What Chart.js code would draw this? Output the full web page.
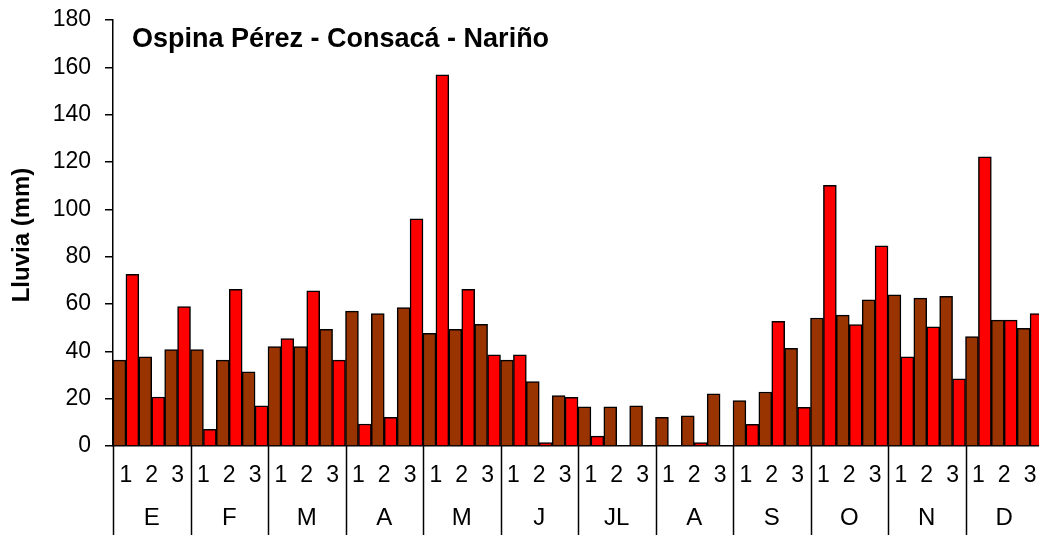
<!DOCTYPE html>
<html lang="es">
<head>
<meta charset="utf-8">
<title>Ospina Pérez - Consacá - Nariño</title>
<script src="https://cdn.jsdelivr.net/npm/chart.js@4.4.1/dist/chart.umd.min.js"></script>
<style>
  html, body { margin: 0; padding: 0; background: #fff; overflow: hidden; }
  .chart-wrap { position: relative; width: 1043px; height: 535px; }
</style>
</head>
<body>
<div class="chart-wrap"><canvas id="lluviaChart"></canvas></div>
<script>
// ===== Datos =====
const months = ['E', 'F', 'M', 'A', 'M', 'J', 'JL', 'A', 'S', 'O', 'N', 'D'];
const dekads = ['1', '2', '3'];

// lluvia por decadal (mm)
const serieCafe = [
  36.3, 37.7, 40.7, 40.7, 36.3, 31.3, 42, 42, 49.3, 57, 56, 58.5,
  47.6, 49.3, 51.4, 36.3, 27.2, 21.3, 16.5, 16.5, 17, 12.1, 12.8, 22,
  19.2, 22.8, 41.3, 54.1, 55.3, 61.8, 63.9, 62.5, 63.2, 46.2, 53.2, 49.7,
];
const serieRoja = [
  72.5, 20.7, 58.9, 7, 66.2, 17, 45.4, 65.6, 36.3, 9.3, 12.1, 96,
  156.8, 66.2, 38.5, 38.5, 1.4, 20.6, 4.2, 0, 0, 0, 1.4, 0,
  9.2, 52.7, 16.3, 110.1, 51.3, 84.6, 37.7, 50.4, 28.4, 122.2, 53.2, 56,
];
const yTicks = [0, 20, 40, 60, 80, 100, 120, 140, 160, 180];

const TITULO = 'Ospina Pérez - Consacá - Nariño';
const EJE_Y = 'Lluvia (mm)';
const FONT = '"Liberation Sans", Arial, sans-serif';

const labels = months.flatMap((m) => dekads.map((d) => [d, m]));

// ===== Eje de meses / decadales + títulos =====
const ejeMeses = {
  id: 'ejeMeses',
  afterDraw(chart) {
    const { ctx, chartArea } = chart;
    const x = chart.scales.x;
    const paso = x.getPixelForValue(1) - x.getPixelForValue(0);

    ctx.save();
    ctx.fillStyle = '#000';
    ctx.textAlign = 'center';
    ctx.textBaseline = 'middle';

    ctx.font = `23px ${FONT}`;
    labels.forEach((lab, i) => ctx.fillText(lab[0], x.getPixelForValue(i), 476));

    ctx.font = `24px ${FONT}`;
    months.forEach((m, j) => ctx.fillText(m, x.getPixelForValue(j * 3 + 1), 518));

    ctx.strokeStyle = '#000';
    ctx.lineWidth = 1.5;
    for (let j = 0; j <= months.length; j++) {
      const xx = Math.round(x.getPixelForValue(j * 3) - paso / 2) + 0.5;
      ctx.beginPath();
      ctx.moveTo(xx, chartArea.bottom);
      ctx.lineTo(xx, chart.height);
      ctx.stroke();
    }

    // título dentro del área
    ctx.textAlign = 'left';
    ctx.textBaseline = 'alphabetic';
    ctx.font = `bold 27px ${FONT}`;
    ctx.fillText(TITULO, 132, 47);

    // título del eje y
    ctx.translate(22, 235);
    ctx.rotate(-Math.PI / 2);
    ctx.textAlign = 'center';
    ctx.textBaseline = 'middle';
    ctx.font = `bold 24px ${FONT}`;
    ctx.fillText(EJE_Y, 0, 0);
    ctx.restore();
  },
};

// ===== Gráfico =====
function renderLluvia() {
  const canvas = document.getElementById('lluviaChart');
  if (!canvas) return;

  const barBase = {
    borderColor: '#000',
    borderWidth: 1.5,
    categoryPercentage: 1,
    barPercentage: 1,
  };

  new Chart(canvas, {
    type: 'bar',
    data: {
      labels,
      datasets: [
        { ...barBase, label: 'Serie 1', data: serieCafe, backgroundColor: '#993300' },
        { ...barBase, label: 'Serie 2', data: serieRoja, backgroundColor: '#ff0000' },
      ],
    },
    options: {
      responsive: true,
      maintainAspectRatio: false,
      animation: false,
      layout: { padding: { top: 20, right: 0, bottom: 0, left: 0 } },
      scales: {
        x: {
          grid: { display: true, drawOnChartArea: false, drawTicks: false },
          border: { display: true, color: '#000', width: 1.5 },
          ticks: { display: false },
          afterFit: (s) => { s.height = 89; },
        },
        y: {
          min: yTicks[0],
          max: yTicks[yTicks.length - 1],
          ticks: {
            stepSize: yTicks[1] - yTicks[0],
            color: '#000',
            padding: 14,
            font: { size: 23, family: FONT },
          },
          grid: { drawOnChartArea: false, drawTicks: true, tickLength: 8, color: '#000', lineWidth: 1.5 },
          border: { display: true, color: '#000', width: 1.5 },
          afterFit: (s) => {
            s.width = 113;
            s.paddingTop = 0;
            s.paddingBottom = 0;
          },
        },
      },
      plugins: {
        legend: { display: false },
        tooltip: { enabled: false },
      },
    },
    plugins: [ejeMeses],
  });
}

// ===== Init =====
document.addEventListener('DOMContentLoaded', renderLluvia);
</script>
</body>
</html>
